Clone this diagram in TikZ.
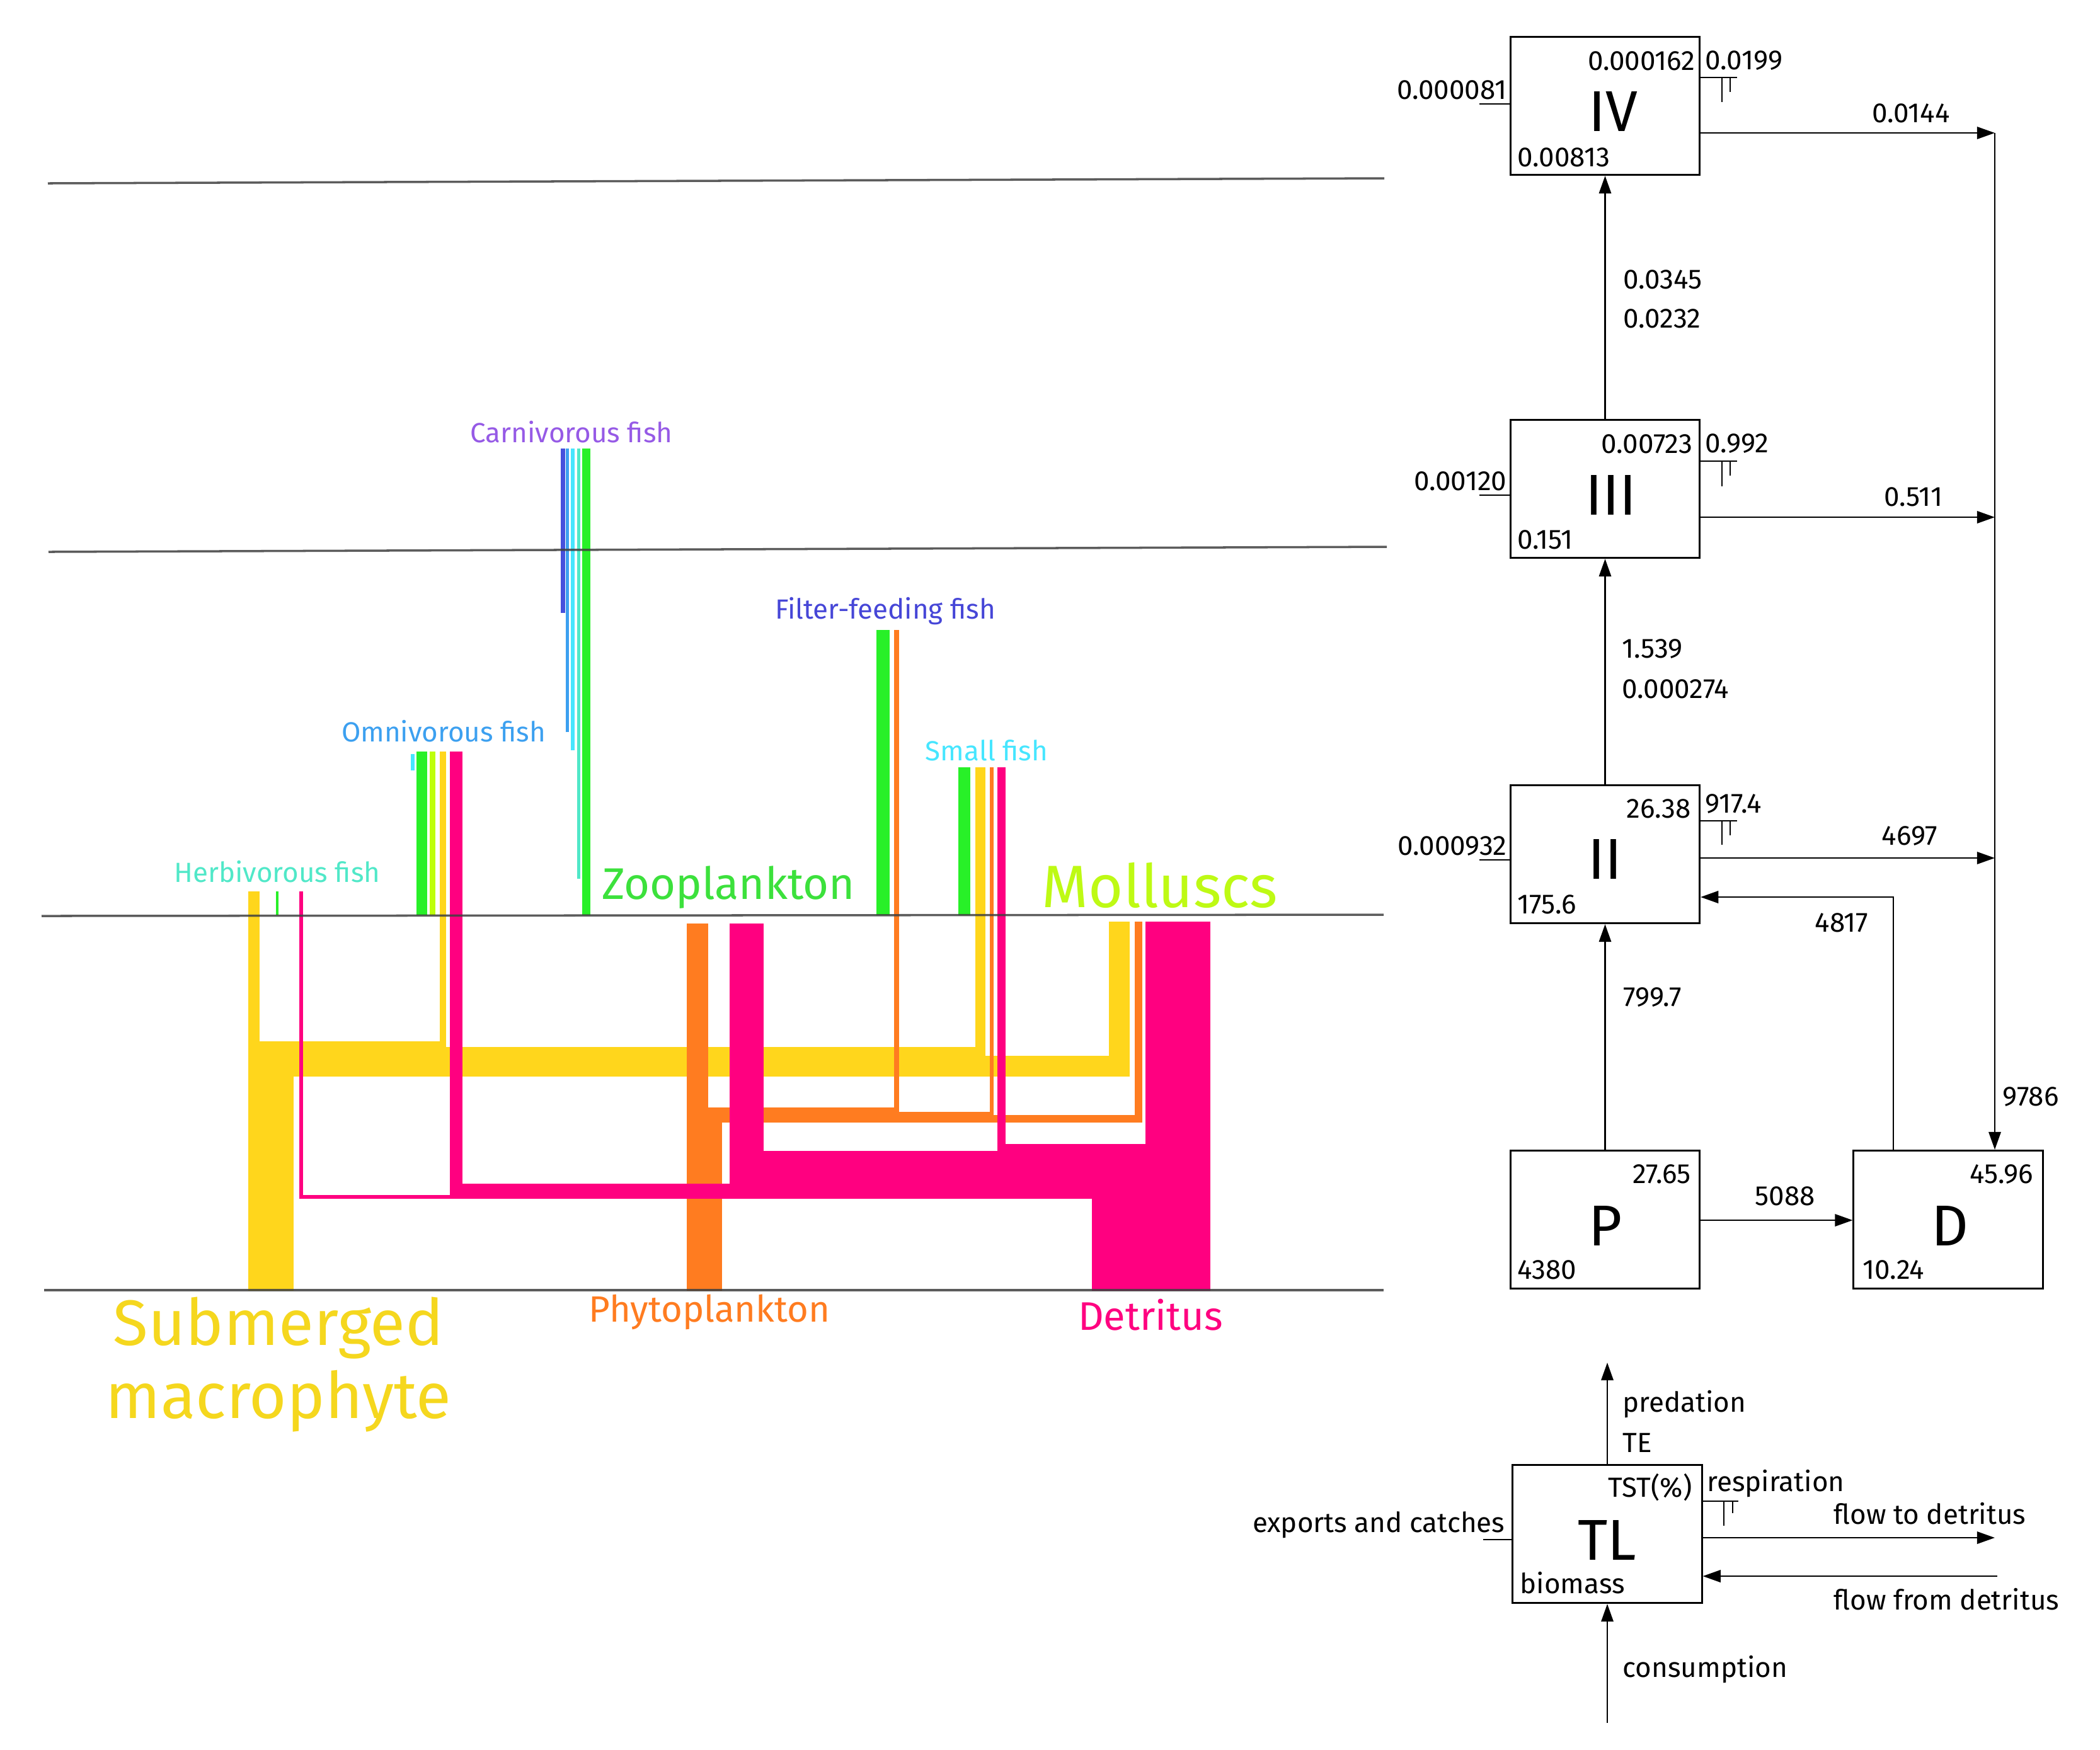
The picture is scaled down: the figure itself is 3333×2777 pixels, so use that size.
\documentclass[tikz,border=0pt]{standalone}
\usepackage{fontspec}
\setmainfont{Fira Sans}
\usetikzlibrary{arrows.meta}
\newcommand\myfs[1]{\fontsize{#1}{#1}\selectfont}
\definecolor{cmac}{RGB}{255,214,28}
\definecolor{cphy}{RGB}{255,124,32}
\definecolor{cdet}{RGB}{255,0,128}
\definecolor{czoo}{RGB}{40,240,40}
\definecolor{cmol}{RGB}{190,255,10}
\definecolor{cff}{RGB}{70,80,220}
\definecolor{comn}{RGB}{60,160,240}
\definecolor{csf}{RGB}{70,230,255}
\definecolor{cherb}{RGB}{80,232,200}
\definecolor{ccar}{RGB}{150,90,230}
\definecolor{tzoo}{RGB}{60,225,60}
\definecolor{tmac}{RGB}{245,215,30}
\definecolor{tmol}{RGB}{190,250,20}
\definecolor{tff}{RGB}{70,70,215}
\begin{document}
\begin{tikzpicture}[x=0.01cm,y=-0.01cm,
  flow/.style={line width=(#1+1.4)*0.01cm, line join=miter, line cap=butt},
  hline/.style={line width=1pt, draw=black!75, opacity=0.85},
  box/.style={draw, line width=0.85pt, minimum width=3cm, minimum height=2.19cm, inner sep=0pt},
  num/.style={font=\myfs{12.5}, inner sep=0pt, text height=8.6pt, text depth=0pt},
  big/.style={font=\myfs{26}, inner sep=0pt},
  lab/.style={font=\myfs{12.5}, inner sep=0pt},
  ln/.style={line width=0.7pt},
  arr/.style={line width=0.7pt, -{Triangle[length=8pt,width=5.5pt]}}]
\fill[white] (0,0) rectangle (3333,2777);
\useasboundingbox (0,0) rectangle (3333,2777);

% ---------- yellow: submerged macrophyte ----------
\draw[flow=16,cmac] (403,2049) -- (403,1415);
\draw[flow=9,cmac] (415.5,2049) -- (415.5,1658.5) -- (703,1658.5) -- (703,1193);
\draw[flow=14,cmac] (427,2049) -- (427,1670) -- (1556,1670) -- (1556,1218);
\draw[flow=31,cmac] (450,2049) -- (450,1692.5) -- (1776.5,1692.5) -- (1776.5,1463);
% ---------- orange: phytoplankton ----------
\draw[flow=32,cphy] (1107,2049) -- (1107,1466);
\draw[flow=7,cphy] (1126.5,2049) -- (1126.5,1762.5) -- (1423,1762.5) -- (1423,1000);
\draw[flow=5,cphy] (1132.5,2049) -- (1132.5,1768.5) -- (1574,1768.5) -- (1574,1218);
\draw[flow=10,cphy] (1140,2049) -- (1140,1776) -- (1807,1776) -- (1807,1463);
% ---------- pink: detritus ----------
\draw[flow=4,cdet] (1736,2049) -- (1736,1900) -- (478,1900) -- (478,1415);
\draw[flow=18,cdet] (1747,2049) -- (1747,1889) -- (724,1889) -- (724,1193);
\draw[flow=52,cdet] (1782,2049) -- (1782,1854) -- (1185,1854) -- (1185,1466);
\draw[flow=11,cdet] (1813.5,2049) -- (1813.5,1822.5) -- (1589.5,1822.5) -- (1589.5,1218);
\draw[flow=101,cdet] (1869.5,2049) -- (1869.5,1463);
% ---------- green: zooplankton ----------
\draw[flow=3,czoo] (440,1453) -- (440,1415);
\draw[flow=15,czoo] (669.5,1453) -- (669.5,1193);
\draw[flow=11,czoo] (930.5,1453) -- (930.5,712);
\draw[flow=19,czoo] (1401.5,1453) -- (1401.5,1000);
\draw[flow=17,czoo] (1530.5,1453) -- (1530.5,1218);
% ---------- lime: molluscs ----------
\draw[flow=7,cmol] (686.5,1453) -- (686.5,1193);
% ---------- to carnivorous fish ----------
\draw[flow=5,cff] (893.5,973) -- (893.5,712);
\draw[flow=3,comn] (900.5,1162) -- (900.5,712);
\draw[flow=4,csf] (909,1191) -- (909,712);
\draw[flow=3,cherb] (918.5,1395) -- (918.5,712);
% small fish -> omnivorous fish
\draw[flow=4,csf] (655,1223) -- (655,1197);

% ---------- trophic level lines ----------
\draw[hline] (76,291) -- (2197,283);
\draw[hline] (77,876) -- (2201,868);
\draw[hline] (66,1454) -- (2196,1452);
\draw[hline] (70,2048) -- (2196,2048);

% ---------- group labels ----------
\node[lab,text=ccar] (lcar) at (907,686) {Carnivorous fish};
\node[lab,text=tff] (lff) at (1405,970) {Filter-feeding fish};
\node[lab,text=comn] (lomn) at (704,1161) {Omnivorous fish};
\node[lab,text=csf] (lsf) at (1566,1191) {Small fish};
\node[lab,text=cherb] (lherb) at (440,1384) {Herbivorous fish};
\node[font=\myfs{20},inner sep=0pt,text=tzoo] (lzoo) at (1156,1409) {Zooplankton};
\node[font=\myfs{27},inner sep=0pt,text=tmol] (lmol) at (1841,1405) {Molluscs};
\node[font=\myfs{29},inner sep=0pt,text=tmac,align=center] (lmac) at (442,2166) {Submerged\\[4pt]macrophyte};
\node[font=\myfs{16.5},inner sep=0pt,text=cphy] (lphy) at (1126,2083) {Phytoplankton};
\node[font=\myfs{18},inner sep=0pt,text=cdet] (ldet) at (1826,2087) {Detritus};

% ---------- right diagram: boxes ----------
\node[box] (IV) at (2547.5,168) {};
\node[box] (III) at (2547.5,776) {};
\node[box] (II) at (2547.5,1356) {};
\node[box] (P) at (2547.5,1936) {};
\node[box] (D) at (3092,1936) {};
\node[box] (TL) at (2551,2435) {};

% IV
\node[num,anchor=east] (iv1) at (2691,96) {0.000162};
\node[num,anchor=west] (iv2) at (2408,249) {0.00813};
\node[big] (iv3) at (2560,177) {IV};
\node[num,anchor=east] (iv4) at (2392,142) {0.000081};
\node[num,anchor=west] (iv5) at (2706,95) {0.0199};
\coordinate (e4) at (2348,165);
\draw[ln] (e4) -- (e4 -| IV.west);
\coordinate (r4) at (2757,123);
\draw[ln] (r4 -| IV.east) -- (r4);
\draw[ln] (2733,123) -- (2733,162);
\draw[ln] (2746,123) -- (2746,146);
% III
\node[num,anchor=east] (iii1) at (2687,704) {0.00723};
\node[num,anchor=west] (iii2) at (2408,856) {0.151};
\node[big] (iii3) at (2557,786) {III};
\node[num,anchor=east] (iii4) at (2392,763) {0.00120};
\node[num,anchor=west] (iii5) at (2706,703) {0.992};
\coordinate (e3) at (2348,786);
\draw[ln] (e3) -- (e3 -| III.west);
\coordinate (r3) at (2757,732);
\draw[ln] (r3 -| III.east) -- (r3);
\draw[ln] (2733,732) -- (2733,772);
\draw[ln] (2746,732) -- (2746,755);
% II
\node[num,anchor=east] (ii1) at (2684,1283) {26.38};
\node[num,anchor=west] (ii2) at (2408,1435) {175.6};
\node[big] (ii3) at (2547,1364) {II};
\node[num,anchor=east] (ii4) at (2392,1342) {0.000932};
\node[num,anchor=west] (ii5) at (2706,1275) {917.4};
\coordinate (e2) at (2348,1365);
\draw[ln] (e2) -- (e2 -| II.west);
\coordinate (r2) at (2757,1303);
\draw[ln] (r2 -| II.east) -- (r2);
\draw[ln] (2733,1303) -- (2733,1341);
\draw[ln] (2746,1303) -- (2746,1326);
% P
\node[num,anchor=east] (p1) at (2684,1863) {27.65};
\node[num,anchor=west] (p2) at (2408,2015) {4380};
\node[big] (p3) at (2548,1946) {P};
% D
\node[num,anchor=east] (d1) at (3228,1863) {45.96};
\node[num,anchor=west] (d2) at (2956,2015) {10.24};
\node[big] (d3) at (3095,1946) {D};

% flows between boxes
\draw[arr] (III.north) -- (IV.south);
\draw[arr] (II.north) -- (III.south);
\draw[arr] (P.north) -- (II.south);
\node[num,anchor=west] (f1) at (2576,443) {0.0345};
\node[num,anchor=west] (f2) at (2576,505) {0.0232};
\node[num,anchor=west] (f3) at (2574,1029) {1.539};
\node[num,anchor=west] (f4) at (2574,1093) {0.000274};
\node[num,anchor=west] (f5) at (2576,1582) {799.7};

\coordinate (c4) at (3166,211);
\coordinate (c3) at (3166,821);
\coordinate (c2) at (3166,1362);
\draw[arr] (c4 -| IV.east) -- (c4);
\draw[arr] (c3 -| III.east) -- (c3);
\draw[arr] (c2 -| II.east) -- (c2);
\draw[arr] (c4) -- (c4 |- D.north);
\node[num] (f6) at (3033,179) {0.0144};
\node[num] (f7) at (3037,788) {0.511};
\node[num] (f8) at (3031,1326) {4697};
\node[num,anchor=west] (f9) at (3178,1740) {9786};

\coordinate (dd) at (3005,1424);
\draw[arr] (dd |- D.north) -- (dd) -- (dd -| II.east);
\node[num] (f10) at (2923,1464) {4817};
\coordinate (pd) at (2800,1937);
\draw[arr] (pd -| P.east) -- (pd -| D.west);
\node[num] (f11) at (2833,1898) {5088};

% ---------- legend box TL ----------
\node[big] (tl3) at (2551,2445) {TL};
\node[num,anchor=east] (tl1) at (2686,2361) {TST(\%)};
\node[num,anchor=west] (tl2) at (2412,2514) {biomass};
\node[num,anchor=west] (tl4) at (2709,2352) {respiration};
\node[num,anchor=east] (tl5) at (2389,2417) {exports and catches};
\node[num,anchor=west] (tl6) at (2575,2226) {predation};
\node[num,anchor=west] (tl7) at (2575,2290) {TE};
\node[num,anchor=west] (tl8) at (2910,2404) {flow to detritus};
\node[num,anchor=west] (tl9) at (2910,2540) {flow from detritus};
\node[num,anchor=west] (tl10) at (2575,2647) {consumption};
\coordinate (tup) at (2551,2163);
\coordinate (tdn) at (2551,2735);
\draw[arr] (TL.north) -- (tup);
\draw[arr] (tdn) -- (TL.south);
\coordinate (eT) at (2354,2444);
\draw[ln] (eT) -- (eT -| TL.west);
\coordinate (rT) at (2759,2383);
\draw[ln] (rT -| TL.east) -- (rT);
\draw[ln] (2736,2383) -- (2736,2422);
\draw[ln] (2750,2383) -- (2750,2402);
\coordinate (to) at (3166,2441);
\draw[arr] (to -| TL.east) -- (to);
\coordinate (fr) at (3170,2502);
\draw[arr] (fr) -- (fr -| TL.east);
\end{tikzpicture}
\end{document}
